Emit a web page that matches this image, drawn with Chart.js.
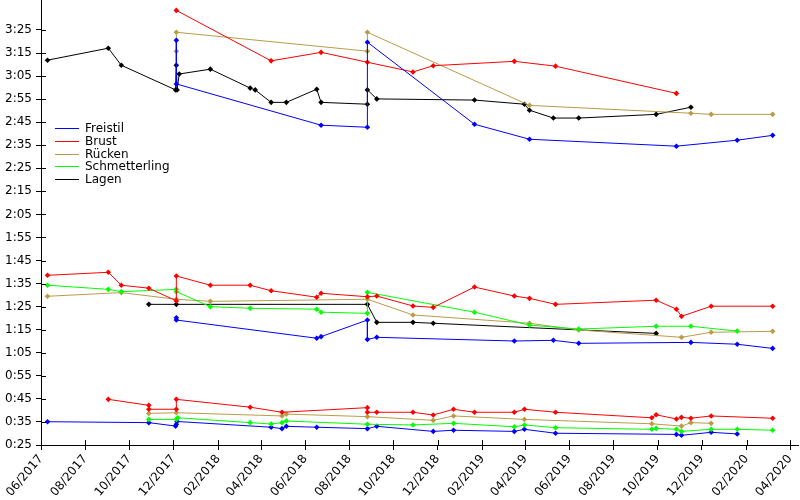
<!DOCTYPE html>
<html>
<head>
<meta charset="utf-8">
<script src="https://cdn.jsdelivr.net/npm/chart.js@4.4.1/dist/chart.umd.min.js"></script>
<style>
  html, body { margin: 0; padding: 0; background: #fff; }
  #wrap { position: relative; width: 800px; height: 500px; }
  #legend { position: absolute; left: 55px; top: 122px; font: 12px "DejaVu Sans", sans-serif; color: #000; }
  #legend div { height: 12.8px; line-height: 12.8px; white-space: nowrap; }
  #legend span.ln { display: inline-block; width: 24px; height: 0; border-top: 1px solid; vertical-align: middle; margin-right: 6px; }
</style>
</head>
<body>
<div id="wrap">
  <canvas id="chart" width="800" height="500"></canvas>
  <div id="legend"></div>
</div>
<script>
// times in seconds, dates as YYYY-MM-DD
const xTickLabels = ['06/2017','08/2017','10/2017','12/2017','02/2018','04/2018','06/2018','08/2018','10/2018',
  '12/2018','02/2019','04/2019','06/2019','08/2019','10/2019','12/2019','02/2020','04/2020'];
const yTickLabels = ['0:25','0:35','0:45','0:55','1:05','1:15','1:25','1:35','1:45','1:55','2:05','2:15',
  '2:25','2:35','2:45','2:55','3:05','3:15','3:25'];

// 200 m
const freistil200Dates = ['2017-12-05','2017-12-05','2018-06-23','2018-08-26','2018-08-26','2019-01-21','2019-04-07','2019-10-27','2020-01-19','2020-03-08'];
const freistil200Times = [200.5, 181.6, 163.7, 162.8, 199.7, 164.1, 157.6, 154.6, 157.2, 159.3];
const brust200Dates = ['2017-12-05','2018-04-15','2018-06-23','2018-08-26','2018-10-28','2018-11-25','2019-03-17','2019-05-13','2019-10-27'];
const brust200Times = [213.5, 191.6, 195.3, 191.0, 186.8, 189.5, 191.4, 189.3, 177.5];
const ruecken200Dates = ['2017-12-05','2017-12-05','2018-08-26','2018-08-26','2019-04-07','2019-11-16','2019-12-14','2020-03-08'];
const ruecken200Times = [195.8, 204.0, 195.8, 204.0, 172.3, 168.9, 168.4, 168.4];
const lagen200Dates = ['2017-06-10','2017-09-02','2017-09-20','2017-12-04','2017-12-05','2017-12-06','2017-12-09','2018-01-21',
  '2018-03-17','2018-03-24','2018-04-15','2018-05-06','2018-06-17','2018-06-23','2018-08-26','2018-08-26','2018-09-08',
  '2019-01-21','2019-03-31','2019-04-07','2019-05-10','2019-06-14','2019-09-29','2019-11-16'];
const lagen200Times = [191.9, 197.1, 189.7, 179.0, 189.7, 179.0, 185.9, 188.0, 179.8, 179.0, 173.6, 173.6, 179.3, 173.6,
  172.8, 179.0, 175.1, 174.6, 172.8, 170.2, 166.8, 166.8, 168.4, 171.5];

// 100 m
const brust100Dates = ['2017-06-10','2017-09-02','2017-09-20','2017-10-28','2017-12-05','2017-12-05','2018-01-21','2018-03-17',
  '2018-04-15','2018-06-17','2018-06-23','2018-08-26','2018-09-08','2018-10-28','2018-11-25','2019-01-21','2019-03-17',
  '2019-04-07','2019-05-13','2019-09-29','2019-10-27','2019-11-03','2019-12-14','2020-03-08'];
const brust100Times = [98.6, 99.9, 94.3, 93.0, 87.5, 98.3, 94.3, 94.3, 91.9, 89.1, 90.8, 89.3, 89.6, 85.3, 84.7, 93.5, 89.6,
  88.6, 86.0, 87.8, 83.9, 80.8, 85.2, 85.2];
const schmetterling100Dates = ['2017-06-10','2017-09-02','2017-09-20','2017-12-05','2017-12-05','2018-01-21','2018-03-17',
  '2018-06-17','2018-06-23','2018-08-26','2018-08-26','2019-01-21','2019-04-07','2019-06-14','2019-09-29','2019-11-16','2020-01-19'];
const schmetterling100Times = [94.3, 92.5, 91.5, 92.5, 91.5, 85.0, 84.3, 83.9, 82.6, 82.1, 91.2, 82.6, 77.0, 75.3, 76.5, 76.5, 74.4];
const ruecken100Dates = ['2017-06-10','2017-09-20','2017-12-05','2018-01-21','2018-08-26','2018-10-28','2019-04-07','2019-06-14',
  '2019-11-03','2019-12-14','2020-03-08'];
const ruecken100Times = [89.5, 91.1, 88.2, 87.3, 88.2, 81.4, 77.8, 74.9, 71.7, 73.9, 74.3];
const lagen100Dates = ['2017-10-28','2017-12-05','2018-08-26','2018-09-08','2018-10-28','2018-11-25','2019-09-29'];
const lagen100Times = [86.0, 86.0, 86.0, 78.2, 78.2, 77.8, 73.4];
const freistil100Dates = ['2017-12-05','2017-12-05','2018-06-17','2018-06-23','2018-08-26','2018-08-26','2018-09-08','2019-03-17',
  '2019-05-10','2019-06-14','2019-11-16','2020-01-19','2020-03-08'];
const freistil100Times = [80.2, 79.2, 71.3, 72.0, 79.2, 70.8, 71.7, 70.1, 70.4, 69.1, 69.5, 68.7, 66.9];

// 50 m
const brust50Dates = ['2017-09-02','2017-10-28','2017-10-28','2017-12-05','2017-12-05','2018-03-17','2018-04-30','2018-08-26',
  '2018-08-26','2018-09-08','2018-10-28','2018-11-25','2018-12-23','2019-01-21','2019-03-17','2019-03-31','2019-05-13',
  '2019-09-23','2019-09-29','2019-10-27','2019-11-03','2019-11-16','2019-12-14','2020-03-08'];
const brust50Times = [44.8, 42.2, 40.5, 40.5, 44.8, 41.4, 39.2, 41.2, 39.2, 39.2, 39.2, 38.0, 40.5, 39.2, 39.2, 40.5, 39.2,
  36.8, 38.1, 36.3, 37.0, 36.6, 37.6, 36.6];
const ruecken50Dates = ['2017-10-28','2017-12-05','2018-04-30','2018-05-06','2018-08-26','2018-11-25','2018-12-23','2019-03-31',
  '2019-09-23','2019-11-03','2019-11-16','2019-12-14'];
const ruecken50Times = [38.7, 39.0, 37.6, 38.4, 37.3, 35.7, 37.6, 36.1, 34.2, 33.2, 34.7, 34.4];
const schmetterling50Dates = ['2017-10-28','2017-12-05','2017-12-07','2018-03-17','2018-04-15','2018-04-30','2018-05-06',
  '2018-08-26','2018-10-28','2018-12-23','2019-03-17','2019-03-31','2019-05-13','2019-09-23','2019-09-29','2019-10-27',
  '2019-11-03','2019-12-14','2020-01-19','2020-03-08'];
const schmetterling50Times = [36.1, 36.1, 36.8, 34.7, 34.1, 34.7, 35.4, 34.0, 33.7, 34.4, 32.9, 33.7, 32.5, 31.8, 32.2, 31.8,
  30.9, 31.8, 31.8, 31.4];
const freistil50Dates = ['2017-06-10','2017-10-28','2017-12-04','2017-12-05','2017-12-06','2018-04-15','2018-04-30','2018-05-06',
  '2018-06-17','2018-08-26','2018-09-08','2018-11-25','2018-12-23','2019-03-17','2019-03-31','2019-05-13','2019-10-27',
  '2019-11-03','2019-12-14','2020-01-19'];
const freistil50Times = [35.1, 34.7, 33.2, 34.0, 35.2, 32.7, 32.1, 33.1, 32.7, 32.1, 33.1, 30.9, 31.4, 30.9, 31.8, 30.1, 29.6,
  29.2, 30.5, 29.8];

const colors = { Freistil: '#0000ff', Brust: '#ff0000', 'Rücken': '#b99b48', Schmetterling: '#00ff00', Lagen: '#000000' };

function dayNum(s) {
  const p = s.split('-').map(Number);
  return Date.UTC(p[0], p[1] - 1, p[2] || 1) / 86400000;
}
function secs(s) {
  const p = s.split(':').map(Number);
  return p[0] * 60 + p[1];
}
function fmt(v) {
  const m = Math.floor(v / 60), s = Math.round(v - m * 60);
  return m + ':' + String(s).padStart(2, '0');
}

const xTickValues = xTickLabels.map(l => { const p = l.split('/'); return dayNum(p[1] + '-' + p[0] + '-01'); });
const yTickValues = yTickLabels.map(secs);

function series(stroke, dates, times) {
  return {
    label: stroke,
    data: dates.map((d, i) => ({ x: dayNum(d), y: times[i] })),
    borderColor: colors[stroke],
    backgroundColor: colors[stroke],
    borderWidth: 1,
    pointStyle: 'rectRot',
    pointRadius: 2.8,
    pointBorderWidth: 0,
    tension: 0,
    clip: false
  };
}

const datasets = [
  series('Freistil', freistil200Dates, freistil200Times),
  series('Brust', brust200Dates, brust200Times),
  series('Rücken', ruecken200Dates, ruecken200Times),
  series('Lagen', lagen200Dates, lagen200Times),
  series('Brust', brust100Dates, brust100Times),
  series('Schmetterling', schmetterling100Dates, schmetterling100Times),
  series('Rücken', ruecken100Dates, ruecken100Times),
  series('Lagen', lagen100Dates, lagen100Times),
  series('Freistil', freistil100Dates, freistil100Times),
  series('Brust', brust50Dates, brust50Times),
  series('Rücken', ruecken50Dates, ruecken50Times),
  series('Schmetterling', schmetterling50Dates, schmetterling50Times),
  series('Freistil', freistil50Dates, freistil50Times)
];

// tick marks that cross the axis line (5px inside the plot as well)
const innerTicks = {
  id: 'innerTicks',
  afterDraw(chart) {
    const c = chart.ctx, a = chart.chartArea;
    c.save();
    c.strokeStyle = '#000';
    c.lineWidth = 1;
    c.beginPath();
    chart.scales.x.ticks.forEach(t => {
      const px = Math.round(chart.scales.x.getPixelForValue(t.value)) + 0.5;
      c.moveTo(px, a.bottom); c.lineTo(px, a.bottom - 5);
    });
    chart.scales.y.ticks.forEach(t => {
      const py = Math.round(chart.scales.y.getPixelForValue(t.value)) + 0.5;
      c.moveTo(a.left, py); c.lineTo(a.left + 5, py);
    });
    c.stroke();
    c.restore();
  }
};

const tickFont = { family: 'DejaVu Sans', size: 12 };

new Chart(document.getElementById('chart'), {
  type: 'line',
  data: { datasets: datasets },
  options: {
    responsive: false,
    animation: false,
    devicePixelRatio: 1,
    layout: { autoPadding: false, padding: { left: 0, right: 2, top: 0, bottom: 0 } },
    plugins: { legend: { display: false }, tooltip: { enabled: false } },
    scales: {
      x: {
        type: 'linear',
        min: dayNum('2017-06-01'),
        max: dayNum('2020-04-12'),
        afterBuildTicks: s => { s.ticks = xTickValues.map(v => ({ value: v })); },
        afterFit: s => { s.height = 55; s.paddingLeft = 0; s.paddingRight = 0; },
        ticks: {
          autoSkip: false, maxRotation: 50, minRotation: 50, padding: 2,
          color: '#000', font: tickFont,
          callback: (v, i) => xTickLabels[i]
        },
        grid: { drawOnChartArea: false, color: '#000', tickLength: 5 },
        border: { color: '#000', width: 1 }
      },
      y: {
        type: 'linear',
        min: 25,
        max: 218,
        afterBuildTicks: s => { s.ticks = yTickValues.map(v => ({ value: v })); },
        afterFit: s => { s.width = 41; s.paddingTop = 0; s.paddingBottom = 0; },
        ticks: { padding: 4, color: '#000', font: tickFont, callback: v => fmt(v) },
        grid: { drawOnChartArea: false, color: '#000', tickLength: 5 },
        border: { color: '#000', width: 1 }
      }
    }
  },
  plugins: [innerTicks]
});

// legend inside the plot, one entry per stroke
const legendEl = document.getElementById('legend');
['Freistil', 'Brust', 'Rücken', 'Schmetterling', 'Lagen'].forEach(name => {
  const row = document.createElement('div');
  row.innerHTML = '<span class="ln" style="border-color:' + colors[name] + '"></span>' + name;
  legendEl.appendChild(row);
});
</script>
</body>
</html>
